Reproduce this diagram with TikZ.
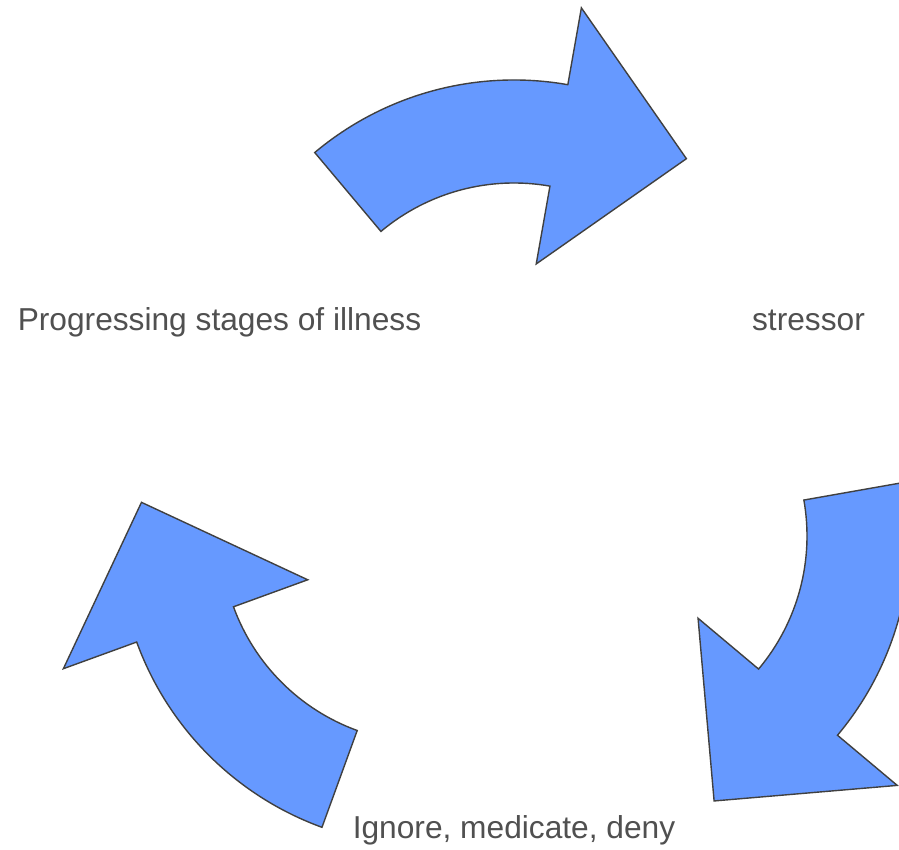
\documentclass[tikz,border=0pt]{standalone}
\usepackage{fontspec}
\setmainfont{Liberation Sans}
\definecolor{arrowfill}{RGB}{102,153,255}
\definecolor{arrowline}{RGB}{64,64,64}
\definecolor{labeltext}{RGB}{80,80,80}
\tikzset{
  cyclearrow/.style={fill=arrowfill, draw=arrowline, line width=1.4pt, line join=miter},
  steplabel/.style={anchor=base, inner sep=0pt, text=labeltext, font=\fontsize{31.7}{36}\selectfont}
}
\newcommand{\curvedarrow}[3]{%
  % #1 = centre x, #2 = centre y, #3 = tail angle
  \draw[cyclearrow, shift={(#1,#2)}]
    (#3:310) arc[start angle=#3, end angle=#3-50, radius=310]
    -- (#3-50:388) -- (#3-76.7:288.5) -- (#3-50:128) -- (#3-50:207)
    arc[start angle=#3-50, end angle=#3, radius=207] -- cycle;}
\begin{document}
\begin{tikzpicture}[x=1pt,y=1pt]
  \useasboundingbox (0,0) rectangle (899,850);
  \clip (0,0) rectangle (899,850);
  \fill[white] (0,0) rectangle (899,850);
  \curvedarrow{514}{460}{130}
  \curvedarrow{600}{314}{10}
  \curvedarrow{428}{314}{-110}
  \node[steplabel] (illness) at (219.5,519) {Progressing stages of illness};
  \node[steplabel] (stressor) at (808.5,519) {stressor};
  \node[steplabel] (ignore) at (514,11) {Ignore, medicate, deny};
\end{tikzpicture}
\end{document}
